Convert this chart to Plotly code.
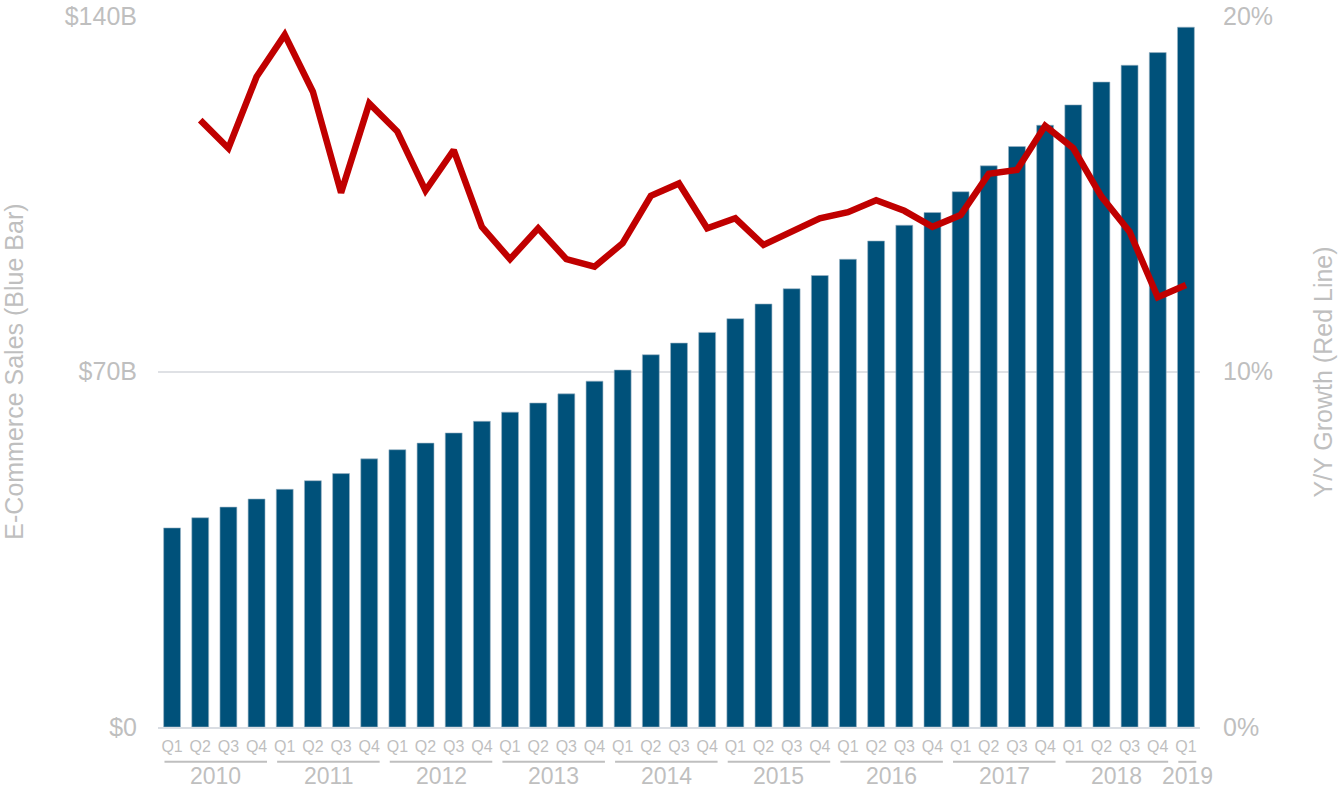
"""E-commerce quarterly sales vs Y/Y growth."""

import plotly.graph_objects as go

# Quarter categories, 2010 Q1 .. 2019 Q1
years = [2010, 2011, 2012, 2013, 2014, 2015, 2016, 2017, 2018, 2019]
quarters = ["Q1", "Q2", "Q3", "Q4"]
periods = [f"{y} {q}" for y in years[:-1] for q in quarters] + ["2019 Q1"]
quarter_labels = [p.split(" ")[1] for p in periods]

# E-commerce sales, $B (blue bars)
sales = [39.2, 41.2, 43.3, 44.9,
         46.8, 48.5, 49.9, 52.8,
         54.6, 55.9, 57.9, 60.2,
         62.0, 63.8, 65.6, 68.1,
         70.3, 73.3, 75.6, 77.7,
         80.4, 83.3, 86.3, 88.9,
         92.1, 95.7, 98.8, 101.3,
         105.4, 110.5, 114.3, 118.5,
         122.5, 127.0, 130.3, 132.8,
         137.8]

# Y/Y growth, % (red line) -- starts at 2010 Q2
growth = [17.07, 16.28, 18.29,
          19.47, 17.87, 15.03, 17.54,
          16.75, 15.09, 16.23, 14.07,
          13.16, 14.03, 13.16, 12.95,
          13.61, 14.94, 15.29, 14.03,
          14.31, 13.56, 13.93, 14.31,
          14.48, 14.82, 14.52, 14.07,
          14.40, 15.56, 15.67, 16.91,
          16.28, 14.92, 13.93, 12.09,
          12.43]

left_ticks = [0, 70, 140]
left_labels = ["$0", "$70B", "$140B"]
right_ticks = [0, 10, 20]
right_labels = ["0%", "10%", "20%"]

GRAY = "#bfbfbf"
FONT = "Liberation Sans, Arial, sans-serif"

fig = go.Figure()

fig.add_trace(go.Bar(
    x=periods,
    y=sales,
    marker=dict(color="#00517a", line=dict(color="#9db6c6", width=0.6)),
    name="E-Commerce Sales",
))

fig.add_trace(go.Scatter(
    x=periods[1:],
    y=growth,
    yaxis="y2",
    mode="lines",
    line=dict(color="#c00000", width=6.5),
    name="Y/Y Growth",
))

# year underlines and labels below the quarter ticks
shapes = []
annotations = []
for yr in years:
    idx = [i for i, p in enumerate(periods) if p.startswith(str(yr))]
    x0, x1 = idx[0] - 0.27, idx[-1] + 0.37
    shapes.append(dict(type="line", xref="x", yref="paper",
                       x0=x0, x1=x1, y0=-0.049, y1=-0.049,
                       line=dict(color=GRAY, width=2)))
    annotations.append(dict(text=str(yr), xref="x", yref="paper",
                            x=(x0 + x1) / 2, y=-0.0685, showarrow=False,
                            xanchor="center", yanchor="middle",
                            font=dict(size=23, color=GRAY, family=FONT)))

annotations.append(dict(text="E-Commerce Sales (Blue Bar)", textangle=-90,
                        xref="paper", yref="paper", x=-0.139, y=0.5,
                        showarrow=False, xanchor="center", yanchor="middle",
                        font=dict(size=25, color=GRAY, family=FONT)))
annotations.append(dict(text="Y/Y Growth (Red Line)", textangle=-90,
                        xref="paper", yref="paper", x=1.118, y=0.5,
                        showarrow=False, xanchor="center", yanchor="middle",
                        font=dict(size=25, color=GRAY, family=FONT)))

fig.update_layout(
    width=1338,
    height=789,
    margin=dict(l=158, r=138, t=16, b=62),
    paper_bgcolor="white",
    plot_bgcolor="white",
    showlegend=False,
    bargap=0.4,
    font=dict(family=FONT, color=GRAY),
    xaxis=dict(
        type="category",
        tickvals=periods,
        ticktext=quarter_labels,
        tickfont=dict(size=16, color=GRAY),
        ticklabelstandoff=4,
        automargin=False,
        showgrid=False,
        showline=True,
        linecolor="#d9dde3",
        linewidth=2,
        ticks="",
        range=[-0.5, len(periods) - 0.5],
    ),
    yaxis=dict(
        range=[0, 140],
        tickvals=left_ticks,
        ticktext=left_labels,
        tickfont=dict(size=25, color=GRAY),
        ticklabelstandoff=20,
        automargin=False,
        showgrid=True,
        gridcolor="#dfe1e5",
        gridwidth=1.5,
        zeroline=False,
        showline=False,
    ),
    yaxis2=dict(
        overlaying="y",
        side="right",
        range=[0, 20],
        tickvals=right_ticks,
        ticktext=right_labels,
        tickfont=dict(size=25, color=GRAY),
        ticklabelstandoff=22,
        automargin=False,
        showgrid=False,
        zeroline=False,
        showline=False,
    ),
    shapes=shapes,
    annotations=annotations,
)

# drop the default 8px body margin so the figure fills the window exactly
fig.write_html("out.html", config={"displayModeBar": False},
               post_script="document.body.style.margin = '0';")
